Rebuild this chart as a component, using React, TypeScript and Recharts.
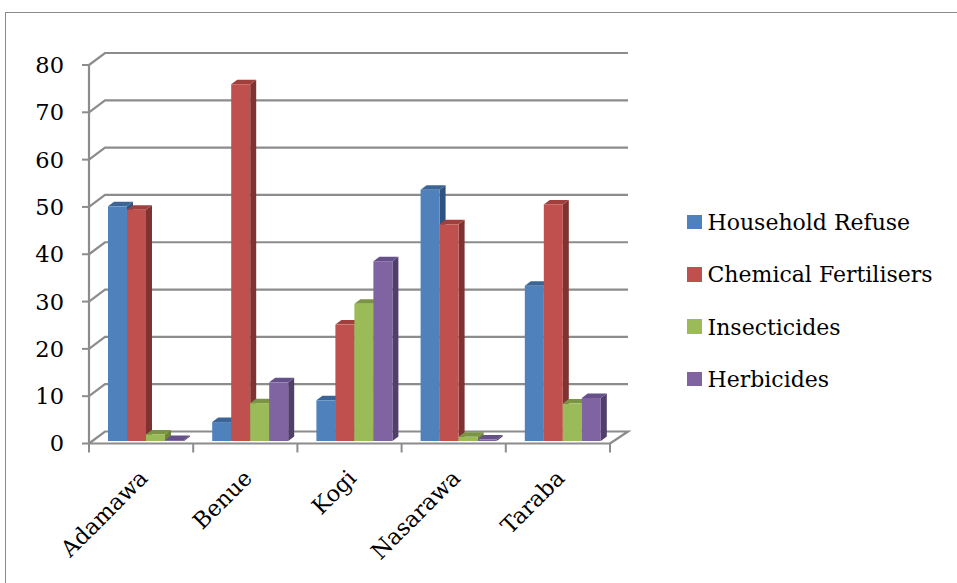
import React from "react";
import { BarChart, Bar, XAxis, YAxis, CartesianGrid } from "recharts";

const categories = ["Adamawa", "Benue", "Kogi", "Nasarawa", "Taraba"];
const householdRefuse = [49.6, 4.0, 8.6, 53.1, 32.8];
const chemicalFertilisers = [48.9, 75.4, 24.6, 45.8, 50.0];
const insecticides = [1.4, 8.0, 29.0, 0.9, 7.9];
const herbicides = [0.2, 12.4, 38.0, 0.3, 9.1];
const yTicks = [0, 10, 20, 30, 40, 50, 60, 70, 80];

const series = [
  { key: "household", name: "Household Refuse", values: householdRefuse, front: "#4F81BD", top: "#3C6494", side: "#30527E" },
  { key: "chemical", name: "Chemical Fertilisers", values: chemicalFertilisers, front: "#C0504D", top: "#A13F3D", side: "#7F3230" },
  { key: "insect", name: "Insecticides", values: insecticides, front: "#9BBB59", top: "#7A9444", side: "#6C8438" },
  { key: "herb", name: "Herbicides", values: herbicides, front: "#8064A2", top: "#65508A", side: "#4F3F6A" },
];

const data = categories.map((name, i) => {
  const row: Record<string, string | number> = { name };
  series.forEach((s) => (row[s.key] = s.values[i]));
  return row;
});

const FONT = "'DejaVu Serif', serif";
const AXIS = "#8c8c8c";
const PLOT_LEFT = 89;
const PLOT_RIGHT = 610;
const PLOT_TOP = 65;
const PLOT_BOTTOM = 443.5;
const BAND = (PLOT_RIGHT - PLOT_LEFT) / categories.length;

// 3d offsets
const BAR_DX = 5;
const BAR_DY = -2.5;
const DEPTH_X = 6;
const DEPTH_Y = 4.5;

function make3dBar(s: (typeof series)[number]) {
  return (props: any) => {
    const { x, y, width, height } = props;
    if (x == null || y == null) return <g />;
    const fx = x + BAR_DX;
    const fy = y + BAR_DY;
    const h = Math.max(height, 0);
    const top = `M${fx},${fy} L${fx + DEPTH_X},${fy - DEPTH_Y} L${fx + width + DEPTH_X},${fy - DEPTH_Y} L${fx + width},${fy} Z`;
    const side = `M${fx + width},${fy} L${fx + width + DEPTH_X},${fy - DEPTH_Y} L${fx + width + DEPTH_X},${fy + h - DEPTH_Y} L${fx + width},${fy + h} Z`;
    return (
      <g>
        <path d={side} fill={s.side} />
        <path d={top} fill={s.top} />
        <rect x={fx} y={fy} width={width} height={h} fill={s.front} />
      </g>
    );
  };
}

const gridLine = (props: any) => {
  const { x1, x2, y1, key } = props;
  const isFloor = Math.abs(y1 - PLOT_BOTTOM) < 1;
  let d = `M${x1},${y1} L${x1 + 16},${y1 - 12} L${x2 + 18},${y1 - 12}`;
  if (isFloor) d += ` L${x2},${y1}`;
  return <path key={key} d={d} fill="none" stroke={AXIS} strokeWidth={2.2} />;
};

const XTick = (props: any) => {
  const { x, payload, index } = props;
  const last = index === categories.length - 1;
  return (
    <g>
      <line x1={x - BAND / 2} y1={PLOT_BOTTOM} x2={x - BAND / 2} y2={PLOT_BOTTOM + 9} stroke={AXIS} strokeWidth={2} />
      {last && (
        <line x1={x + BAND / 2} y1={PLOT_BOTTOM} x2={x + BAND / 2} y2={PLOT_BOTTOM + 9} stroke={AXIS} strokeWidth={2} />
      )}
      <text
        transform={`translate(${x + 8},${PLOT_BOTTOM + 36}) rotate(-45)`}
        textAnchor="end"
        fontFamily={FONT}
        fontSize={22.5}
        fill="#000"
      >
        {payload.value}
      </text>
    </g>
  );
};

export default function App() {
  return (
    <div style={{ position: "absolute", left: 0, top: 0, width: 957, height: 583, overflow: "hidden", background: "#fff" }}>
      <div
        style={{
          position: "absolute",
          left: 5,
          top: 12,
          width: 1000,
          height: 700,
          border: "1px solid #8a8a8a",
        }}
      />
      <div style={{ position: "absolute", left: 0, top: 0 }}>
        <BarChart
          width={957}
          height={583}
          data={data}
          margin={{ top: PLOT_TOP, right: 957 - PLOT_RIGHT, bottom: 0, left: 0 }}
          barCategoryGap={14}
          barGap={0}
        >
          <CartesianGrid vertical={false} horizontal={gridLine} />
          <XAxis
            dataKey="name"
            height={583 - PLOT_BOTTOM}
            interval={0}
            tickLine={false}
            axisLine={{ stroke: AXIS, strokeWidth: 2.2 }}
            tick={<XTick />}
          />
          <YAxis
            width={PLOT_LEFT}
            domain={[0, 80]}
            ticks={yTicks}
            interval={0}
            tickSize={7}
            tickMargin={18}
            axisLine={{ stroke: AXIS, strokeWidth: 2.2 }}
            tickLine={{ stroke: AXIS, strokeWidth: 2 }}
            tick={{ fill: "#000", fontSize: 22.5, fontFamily: FONT }}
          />
          {series.map((s) => (
            <Bar key={s.key} dataKey={s.key} name={s.name} shape={make3dBar(s)} isAnimationActive={false} />
          ))}
        </BarChart>
      </div>
      <div style={{ position: "absolute", left: 687, top: 196 }}>
        {series.map((s) => (
          <div key={s.key} style={{ display: "flex", alignItems: "center", height: 52.3 }}>
            <div style={{ width: 14.5, height: 14.5, background: s.front, marginRight: 6 }} />
            <span style={{ fontFamily: FONT, fontSize: 22, color: "#000", lineHeight: "22px", position: "relative", top: 1 }}>
              {s.name}
            </span>
          </div>
        ))}
      </div>
    </div>
  );
}
